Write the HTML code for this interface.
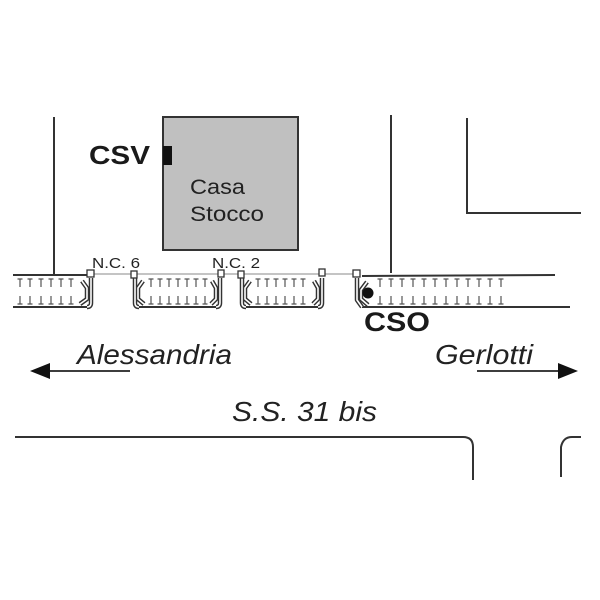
<!DOCTYPE html>
<html><head><meta charset="utf-8"><style>
html,body{margin:0;padding:0;background:#fff;}
svg{display:block;}
text{font-family:"Liberation Sans",sans-serif;}
</style></head><body>
<svg width="600" height="600" viewBox="0 0 600 600" xmlns="http://www.w3.org/2000/svg">
<defs>
<g id="tt"><path d="M-2.5,0 H2.5 M0,0 V8" stroke="#555" stroke-width="1.2" fill="none"/></g>
<g id="tb"><path d="M-2.5,8 H2.5 M0,0 V8" stroke="#555" stroke-width="1.2" fill="none"/></g>
</defs>
<g stroke="#333" stroke-width="2" fill="none">
<line x1="54" y1="117" x2="54" y2="275"/>
<line x1="391" y1="115" x2="391" y2="273"/>
<polyline points="467,118 467,213 581,213"/>
<path d="M15,437 H463 Q473,437 473,447 V480"/>
<path d="M561,477 V447 Q563,437 572,437 H581"/>
</g>
<rect x="163" y="117" width="135" height="133" fill="#c0c0c0" stroke="#333" stroke-width="2"/>
<rect x="163" y="146" width="9" height="19" fill="#111"/>
<text x="89" y="164" font-size="26" font-weight="bold" fill="#1a1a1a" textLength="61" lengthAdjust="spacingAndGlyphs">CSV</text>
<text x="190" y="194" font-size="21" fill="#222" textLength="55" lengthAdjust="spacingAndGlyphs">Casa</text>
<text x="190" y="221" font-size="21" fill="#222" textLength="74" lengthAdjust="spacingAndGlyphs">Stocco</text>
<line x1="90" y1="274" x2="360" y2="274" stroke="#888" stroke-width="1"/>
<g stroke="#333" stroke-width="2" fill="none">
<line x1="13" y1="275" x2="88" y2="275"/>
<line x1="13" y1="307" x2="90" y2="307"/>
<line x1="138" y1="307" x2="218" y2="307"/>
<line x1="245" y1="307" x2="320" y2="307"/>
<line x1="362" y1="276" x2="555" y2="275"/>
<line x1="362" y1="307" x2="570" y2="307"/>
</g>
<g fill="none" stroke-linejoin="round">
<g stroke="#333" stroke-width="4.5">
<path d="M91,278 V303 Q91,307 87,307"/>
<path d="M82,281 L87,288 V299 L80,304"/>
<path d="M135,278 V303 Q135,307 139,307"/>
<path d="M143,281 L138,288 V299 L144,304"/>
<path d="M220,278 V303 Q220,307 216,307"/>
<path d="M212,281 L216,288 V299 L211,304"/>
<path d="M242,278 V303 Q242,307 246,307"/>
<path d="M250,281 L245,288 V299 L251,304"/>
<path d="M322,278 V303 Q322,307 318,307"/>
<path d="M314,281 L318,288 V299 L313,304"/>
<path d="M357,278 V300 L362,307"/>
<path d="M367,282 L361,290 V299 L368,305"/>
</g>
<g stroke="#fff" stroke-width="1.6">
<path d="M91,278 V303 Q91,307 87,307"/>
<path d="M82,281 L87,288 V299 L80,304"/>
<path d="M135,278 V303 Q135,307 139,307"/>
<path d="M143,281 L138,288 V299 L144,304"/>
<path d="M220,278 V303 Q220,307 216,307"/>
<path d="M212,281 L216,288 V299 L211,304"/>
<path d="M242,278 V303 Q242,307 246,307"/>
<path d="M250,281 L245,288 V299 L251,304"/>
<path d="M322,278 V303 Q322,307 318,307"/>
<path d="M314,281 L318,288 V299 L313,304"/>
<path d="M357,278 V300 L362,307"/>
<path d="M367,282 L361,290 V299 L368,305"/>
</g>
</g>
<g fill="#fff" stroke="#333" stroke-width="1.3">
<rect x="87" y="270" width="7" height="7"/>
<rect x="131" y="271" width="6" height="7"/>
<rect x="218" y="270" width="6" height="7"/>
<rect x="238" y="271" width="6" height="7"/>
<rect x="319" y="269" width="6" height="7"/>
<rect x="353" y="270" width="7" height="7"/>
</g>
<g>
<use href="#tt" x="20" y="279"/><use href="#tt" x="30" y="279"/><use href="#tt" x="41" y="279"/><use href="#tt" x="51" y="279"/><use href="#tt" x="61" y="279"/><use href="#tt" x="71" y="279"/>
<use href="#tb" x="20" y="296"/><use href="#tb" x="30" y="296"/><use href="#tb" x="41" y="296"/><use href="#tb" x="51" y="296"/><use href="#tb" x="61" y="296"/><use href="#tb" x="71" y="296"/>
<use href="#tt" x="151" y="279"/><use href="#tt" x="160" y="279"/><use href="#tt" x="169" y="279"/><use href="#tt" x="178" y="279"/><use href="#tt" x="187" y="279"/><use href="#tt" x="196" y="279"/><use href="#tt" x="205" y="279"/>
<use href="#tb" x="151" y="296"/><use href="#tb" x="160" y="296"/><use href="#tb" x="169" y="296"/><use href="#tb" x="178" y="296"/><use href="#tb" x="187" y="296"/><use href="#tb" x="196" y="296"/><use href="#tb" x="205" y="296"/>
<use href="#tt" x="258" y="279"/><use href="#tt" x="267" y="279"/><use href="#tt" x="276" y="279"/><use href="#tt" x="285" y="279"/><use href="#tt" x="294" y="279"/><use href="#tt" x="303" y="279"/>
<use href="#tb" x="258" y="296"/><use href="#tb" x="267" y="296"/><use href="#tb" x="276" y="296"/><use href="#tb" x="285" y="296"/><use href="#tb" x="294" y="296"/><use href="#tb" x="303" y="296"/>
<use href="#tt" x="380" y="279"/><use href="#tt" x="391" y="279"/><use href="#tt" x="402" y="279"/><use href="#tt" x="413" y="279"/><use href="#tt" x="424" y="279"/><use href="#tt" x="435" y="279"/><use href="#tt" x="446" y="279"/><use href="#tt" x="457" y="279"/><use href="#tt" x="468" y="279"/><use href="#tt" x="479" y="279"/><use href="#tt" x="490" y="279"/><use href="#tt" x="501" y="279"/>
<use href="#tb" x="380" y="296"/><use href="#tb" x="391" y="296"/><use href="#tb" x="402" y="296"/><use href="#tb" x="413" y="296"/><use href="#tb" x="424" y="296"/><use href="#tb" x="435" y="296"/><use href="#tb" x="446" y="296"/><use href="#tb" x="457" y="296"/><use href="#tb" x="468" y="296"/><use href="#tb" x="479" y="296"/><use href="#tb" x="490" y="296"/><use href="#tb" x="501" y="296"/>
</g>
<circle cx="368" cy="293" r="5.5" fill="#111"/>
<text x="92" y="268" font-size="15" fill="#222" textLength="48" lengthAdjust="spacingAndGlyphs">N.C. 6</text>
<text x="212" y="268" font-size="15" fill="#222" textLength="48" lengthAdjust="spacingAndGlyphs">N.C. 2</text>
<text x="364" y="331" font-size="27" font-weight="bold" fill="#1a1a1a" textLength="66" lengthAdjust="spacingAndGlyphs">CSO</text>
<text x="77" y="364" font-size="28" font-style="italic" fill="#222" textLength="155" lengthAdjust="spacingAndGlyphs">Alessandria</text>
<text x="435" y="364" font-size="28" font-style="italic" fill="#222" textLength="98" lengthAdjust="spacingAndGlyphs">Gerlotti</text>
<text x="232" y="421" font-size="28" font-style="italic" fill="#222" textLength="145" lengthAdjust="spacingAndGlyphs">S.S. 31 bis</text>
<g stroke="#222" stroke-width="1.8">
<line x1="45" y1="371" x2="130" y2="371"/>
<line x1="477" y1="371" x2="562" y2="371"/>
</g>
<polygon points="30,371 50,363 50,379" fill="#111"/>
<polygon points="578,371 558,363 558,379" fill="#111"/>
</svg>
</body></html>
